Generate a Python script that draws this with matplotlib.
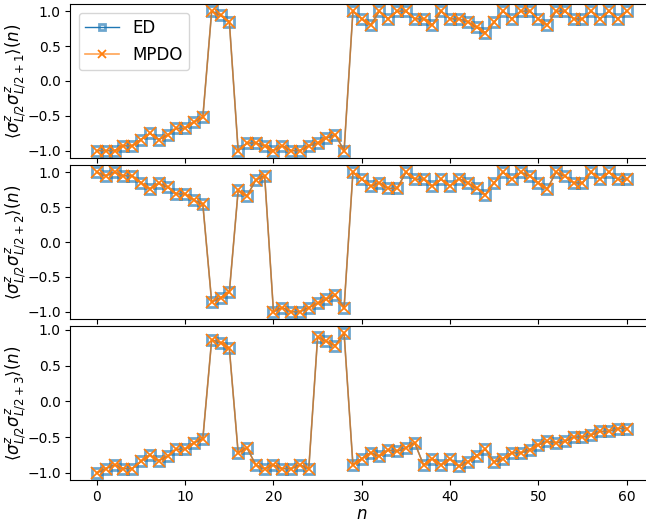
import numpy as np
import matplotlib
matplotlib.use("Agg")
import matplotlib.pyplot as plt

n = np.arange(61)

# <sz_{L/2} sz_{L/2+1}>(n)
corr1 = [-1.0, -1.0, -1.0, -0.93, -0.93, -0.84, -0.75, -0.84, -0.78, -0.68,
         -0.68, -0.59, -0.52, 1.0, 0.94, 0.85, -1.0, -0.89, -0.89, -0.93,
         -1.0, -0.93, -1.0, -1.0, -0.93, -0.89, -0.82, -0.77, -1.0, 1.0,
         0.89, 0.80, 1.0, 0.89, 1.0, 1.0, 0.89, 0.89, 0.80, 1.0,
         0.89, 0.89, 0.85, 0.77, 0.69, 0.84, 1.0, 0.89, 1.0, 1.0,
         0.89, 0.80, 1.0, 1.0, 0.89, 0.89, 1.0, 0.89, 1.0, 0.89, 1.0]

# <sz_{L/2} sz_{L/2+2}>(n)
corr2 = [1.0, 0.95, 1.0, 0.95, 0.95, 0.85, 0.76, 0.84, 0.79, 0.69,
         0.69, 0.60, 0.54, -0.86, -0.80, -0.72, 0.74, 0.66, 0.89, 0.95,
         -1.0, -0.94, -1.0, -1.0, -0.94, -0.88, -0.82, -0.76, -0.94, 1.0,
         0.90, 0.80, 0.85, 0.77, 0.77, 1.0, 0.90, 0.90, 0.80, 0.90,
         0.80, 0.91, 0.85, 0.77, 0.68, 0.85, 1.0, 0.90, 1.0, 0.95,
         0.85, 0.76, 1.0, 0.95, 0.85, 0.85, 1.0, 0.90, 1.0, 0.90, 0.90]

# <sz_{L/2} sz_{L/2+3}>(n)
corr3 = [-1.0, -0.94, -0.89, -0.94, -0.94, -0.84, -0.75, -0.83, -0.77, -0.67,
         -0.67, -0.58, -0.52, 0.86, 0.82, 0.74, -0.72, -0.65, -0.89, -0.94,
         -0.89, -0.94, -0.94, -0.89, -0.94, 0.90, 0.84, 0.78, 0.95, -0.89,
         -0.80, -0.72, -0.77, -0.68, -0.70, -0.65, -0.58, -0.89, -0.80, -0.89,
         -0.80, -0.91, -0.85, -0.76, -0.67, -0.85, -0.80, -0.72, -0.72, -0.68,
         -0.61, -0.56, -0.58, -0.56, -0.50, -0.50, -0.47, -0.42, -0.42, -0.38, -0.38]

data = [corr1, corr2, corr3]
ylabels = [r'$\langle\sigma^z_{L/2}\sigma^z_{L/2+1}\rangle(n)$',
           r'$\langle\sigma^z_{L/2}\sigma^z_{L/2+2}\rangle(n)$',
           r'$\langle\sigma^z_{L/2}\sigma^z_{L/2+3}\rangle(n)$']

fig, axes = plt.subplots(3, 1, sharex=True, figsize=(6.46, 5.25), dpi=100)
fig.subplots_adjust(left=0.109, right=1.011, top=0.992, bottom=0.086, hspace=0.05)

blue = matplotlib.colors.to_rgba('C0')
orange = matplotlib.colors.to_rgba('C1')

for ax, vals, lab in zip(axes, data, ylabels):
    ax.plot(n, vals, 's-', color=blue, lw=1, ms=7, mfc='none',
            mec=(blue[0], blue[1], blue[2], 0.65), mew=2.0, label='ED')
    ax.plot(n, vals, 'x-', color=(orange[0], orange[1], orange[2], 0.7), lw=1.2,
            ms=8, mec=orange, mew=1.3, label='MPDO')
    ax.set_ylabel(lab, fontsize=12)
    ax.yaxis.set_label_coords(-0.072, 0.5)
    ax.set_yticks([-1.0, -0.5, 0.0, 0.5, 1.0])

axes[0].legend(loc='upper left', markerscale=0.7, fontsize=12)
axes[2].set_xlabel('$n$', fontsize=12, labelpad=1)

plt.savefig('out.png', dpi=100)
